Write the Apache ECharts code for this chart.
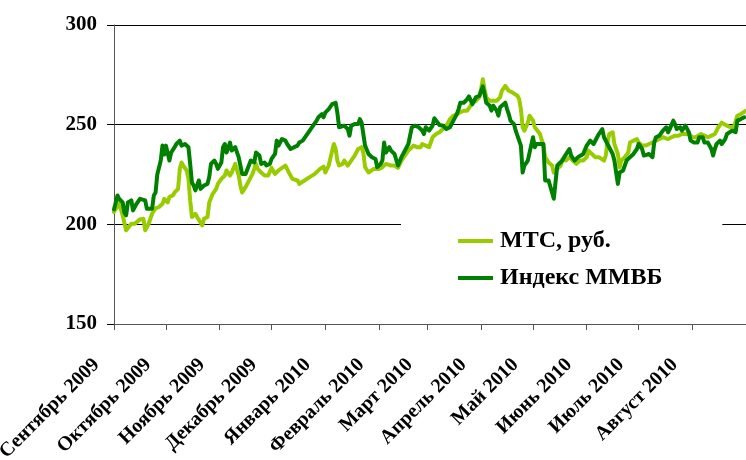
<!DOCTYPE html>
<html>
<head>
<meta charset="utf-8">
<script src="https://cdn.jsdelivr.net/npm/echarts@6/dist/echarts.min.js"></script>
<style>
  html, body { margin: 0; padding: 0; background: #fff; }
  #main { width: 746px; height: 460px; }
</style>
</head>
<body>
<div id="main"></div>
<script>
  // month labels for the x axis (Sep 2009 .. Aug 2010)
  const monthLabels = [
    "Сентябрь 2009", "Октябрь 2009", "Ноябрь 2009", "Декабрь 2009",
    "Январь 2010", "Февраль 2010", "Март 2010", "Апрель 2010",
    "Май 2010", "Июнь 2010", "Июль 2010", "Август 2010"
  ];
  const seriesNames = ["МТС, руб.", "Индекс ММВБ"];
  const colors = ["#99cc00", "#008000"];

  // [days since 1 Sep 2009, value]
  const mtsPoints = [
    [0,206.2],[3,210.7],[5,204.5],[7,197],[10,200.3],[12,200.3],[15,202.5],[17,202.8],[18,197],[20,200.3],
    [22,205.3],[24,208],[26,208.7],[28,210.3],[29,212.8],[31,211],[32,213.7],[34,214.5],[35,216],[37,217.8],
    [38,227.8],[39,231],[40,229.5],[42,227],[43,222.8],[44,212],[45,203.7],[46,203.7],[47,205.3],[48,203.7],
    [49,204.5],[51,199.5],[52,202.8],[54,203.7],[55,211],[57,215.3],[59,217.8],[60,220.3],[62,222.8],[64,224.5],
    [65,227],[67,224.5],[68,226],[70,230.3],[72,224.5],[73,219.5],[74,216],[76,218.7],[77,219.5],[79,223.7],
    [80,225.3],[82,230.3],[83,227.8],[85,226],[87,224.5],[89,224.5],[91,228.3],[93,225.3],[95,227],[97,228.3],
    [99,229.5],[101,226],[103,222.8],[106,222],[107,220.3],[110,222],[113,223.7],[116,225.3],[119,227.8],[121,229],
    [122,226],[124,229.5],[126,237],[127,240.3],[128,237.8],[129,232],[130,229.5],[132,230.3],[133,232],[135,229.5],
    [137,232],[139,234.5],[141,237.8],[143,238.7],[144,236],[145,228.7],[147,226],[148,225.3],[150,227.8],[153,227.8],
    [155,228.7],[157,230.3],[158,229.5],[160,229.5],[162,229.5],[164,228.3],[166,232],[168,234.5],[170,237],[171,236],
    [173,239.5],[175,238.7],[177,238.7],[178,240.3],[180,239.5],[182,238.7],[184,243.7],[186,245.3],[188,246.2],[190,247.8],
    [192,249.5],[194,252.8],[196,254.5],[198,255.3],[200,256.2],[202,257],[204,257],[206,259.5],[207,261],[209,262],
    [211,263.7],[212,267.8],[213,272.8],[214,267.8],[215,263.7],[217,262],[219,262],[221,262],[223,263.7],[224,267],
    [226,269.5],[228,267],[230,266.2],[233,264.5],[234,262.8],[235,257.8],[236,248.7],[237,247],[239,251],[240,254.5],
    [242,252],[243,248.7],[244,247.8],[246,245.3],[248,239.5],[249,233.7],[251,231],[253,229.5],[254,226],[256,227.8],
    [258,229.5],[259,232.8],[261,232],[263,233.7],[265,232],[267,230.3],[269,232],[271,232],[273,233.7],[274,237],
    [276,235.3],[278,233.7],[280,233.7],[281,234.5],[283,232],[284,234.5],[285,241],[286,245.3],[288,246.2],[289,240.3],
    [291,235.3],[292,228.7],[293,232],[295,233.7],[297,236],[298,241],[300,242],[302,242.8],[303,241],[305,239.5],
    [307,239.5],[309,240.3],[311,241],[313,242],[315,242.8],[317,243.7],[320,242.8],[322,243.7],[324,244.5],[326,244.5],
    [328,245.3],[330,245.3],[332,245.3],[334,243.7],[336,243.7],[337,244.5],[339,245.3],[341,244.5],[343,243.7],[345,244.5],
    [347,245.3],[349,248.7],[351,251],[352,252],[354,249.5],[356,248.7],[358,248.7],[359,249.5],[360,254.5],[362,255.3],
    [363,256.2],[365,257]
  ];

  const micexPoints = [
    [0,207.5],[2,214.5],[3,212.8],[5,211],[6,206],[7,204.5],[8,211],[10,212],[11,207],[12,208.7],
    [13,210.3],[15,212.8],[16,213.7],[18,212],[19,207.8],[20,207.3],[22,207.8],[23,214.5],[24,216],[25,225],
    [27,232],[28,239.5],[29,235],[30,239.5],[32,232],[33,236],[35,238.7],[36,240.3],[38,242],[39,239.5],
    [41,240.3],[43,238.7],[44,230.3],[45,221],[46,219.5],[47,217],[49,222],[50,217.8],[51,217],[52,219.5],
    [54,220.3],[55,223.7],[56,230.3],[58,232],[59,230.3],[60,227.8],[62,231],[63,238.7],[64,240.3],[65,236],
    [67,241],[68,237],[70,238.7],[72,233.7],[73,229.5],[74,225.3],[76,225.3],[77,226],[79,232],[80,232.8],
    [81,231],[82,236],[84,234.5],[85,230.3],[87,231],[88,229.5],[90,230.3],[91,232.8],[93,235.3],[94,242],
    [95,239.5],[97,242.8],[99,242],[100,240.3],[102,237.8],[104,238.7],[106,239.5],[107,241],[109,242],[111,244.5],
    [113,247],[115,249.5],[117,252],[118,253.7],[120,255.3],[121,253.7],[122,256],[123,255.3],[124,257.8],[126,260.3],
    [128,261],[129,256],[130,248.7],[131,248.7],[133,249.5],[135,247.8],[136,244.5],[137,249.5],[139,250.3],[141,250.3],
    [142,252.8],[143,251],[145,239.5],[147,235.3],[148,236],[149,233.7],[151,232.8],[152,228.7],[154,230.3],[155,232],
    [156,241],[157,236],[159,238.7],[160,237],[162,235.3],[164,229.5],[166,233.7],[168,237],[170,240.3],[172,248.7],
    [174,249.5],[176,248.7],[178,247],[179,245.3],[180,248.7],[182,247],[184,249.5],[185,253.2],[187,251],[188,249.8],
    [190,249.5],[192,247.8],[194,248.7],[196,252],[198,255.3],[199,257.8],[200,261],[202,261],[204,262.8],[205,264.2],
    [207,260.3],[208,262],[209,263.7],[211,264.5],[212,265.3],[213,269.2],[214,265.3],[215,261],[217,259.5],[218,257],
    [219,259.5],[221,257],[222,254.5],[223,258.7],[224,259.5],[226,261],[227,257.8],[228,255.3],[229,252],[231,250.3],
    [232,247],[234,242],[235,239.5],[236,226],[237,229.5],[239,232],[240,236],[242,243.7],[243,238.7],[244,240.3],
    [246,240.3],[248,240.3],[249,222],[251,222],[252,222],[254,212.8],[256,229.5],[257,230.3],[259,232],[260,233.7],
    [261,234.5],[263,237.8],[264,234.5],[266,232],[268,233.7],[269,234.5],[271,235.3],[273,239.5],[275,242],[277,240.3],
    [279,243.7],[280,245.3],[282,247.8],[283,243.7],[285,240.3],[286,239.5],[288,235.3],[289,232],[290,226],[291,220.3],
    [292,226],[294,227],[296,232],[298,233.7],[299,233.7],[300,235.3],[302,237.8],[303,240.3],[305,237.8],[306,234.5],
    [307,233.7],[309,235.3],[311,233.7],[312,241],[313,243.7],[315,244.5],[317,247],[319,248.7],[320,246.2],[321,247.8],
    [323,252],[324,250.3],[325,247.8],[327,248.7],[328,247],[330,249.5],[332,246.2],[333,242],[335,241],[337,241],
    [338,243.7],[340,243.7],[341,241],[343,241],[345,237.8],[346,234.5],[347,237.8],[348,240.3],[350,242],[351,240.3],
    [353,242.8],[354,245.3],[355,246.2],[357,247],[359,246.2],[360,252],[361,252.8],[362,252.8],[364,253.7]
  ];

  const DAY = 86400000;
  const start = Date.UTC(2009, 8, 1);

  // month starts as day offsets, one extra for the right end of the axis
  const monthTicks = [];
  for (let i = 0; i <= monthLabels.length; i++) {
    monthTicks.push(Math.round((Date.UTC(2009, 8 + i, 1) - start) / DAY));
  }
  const labelByDay = {};
  monthLabels.forEach((l, i) => { labelByDay[monthTicks[i]] = l; });

  const font = "Liberation Serif";

  const chart = echarts.init(document.getElementById("main"));
  const option = {
    backgroundColor: "#fff",
    animation: false,
    grid: { left: 114, right: 0, top: 25, bottom: 136, containLabel: false, outerBoundsMode: "none" },
    legend: {
      orient: "vertical",
      left: 401,
      top: 212,
      padding: [17, 60, 18, 57],
      backgroundColor: "#fff",
      itemGap: 13,
      itemWidth: 35,
      itemHeight: 4,
      icon: "rect",
      textStyle: { fontFamily: font, fontWeight: "bold", fontSize: 24, color: "#000", padding: [0, 0, 0, 2] },
      data: seriesNames
    },
    xAxis: {
      type: "value",
      min: monthTicks[0],
      max: monthTicks[monthTicks.length - 1],
      axisLine: { lineStyle: { color: "#555", width: 1 } },
      axisTick: { customValues: monthTicks, length: 6, lineStyle: { color: "#555" } },
      splitLine: { show: false },
      axisLabel: {
        customValues: monthTicks.slice(0, monthLabels.length),
        formatter: (v) => labelByDay[v] || "",
        rotate: 45,
        margin: 20,
        padding: [0, 25, 0, 0],
        fontFamily: font,
        fontWeight: "bold",
        fontSize: 20,
        color: "#000"
      }
    },
    yAxis: {
      type: "value",
      min: 150,
      max: 300,
      interval: 50,
      axisLine: { show: true, lineStyle: { color: "#555", width: 1 } },
      axisTick: { show: true, length: 7, lineStyle: { color: "#000" } },
      splitLine: { lineStyle: { color: "#000", width: 1 } },
      axisLabel: {
        margin: 17,
        fontFamily: font,
        fontWeight: "bold",
        fontSize: 21,
        color: "#000"
      }
    },
    series: [
      {
        name: seriesNames[0],
        type: "line",
        data: mtsPoints,
        showSymbol: false,
        color: colors[0],
        lineStyle: { width: 4, join: "round", cap: "round" }
      },
      {
        name: seriesNames[1],
        type: "line",
        data: micexPoints,
        showSymbol: false,
        color: colors[1],
        lineStyle: { width: 4, join: "round", cap: "round" }
      }
    ]
  };
  chart.setOption(option);
</script>
</body>
</html>
